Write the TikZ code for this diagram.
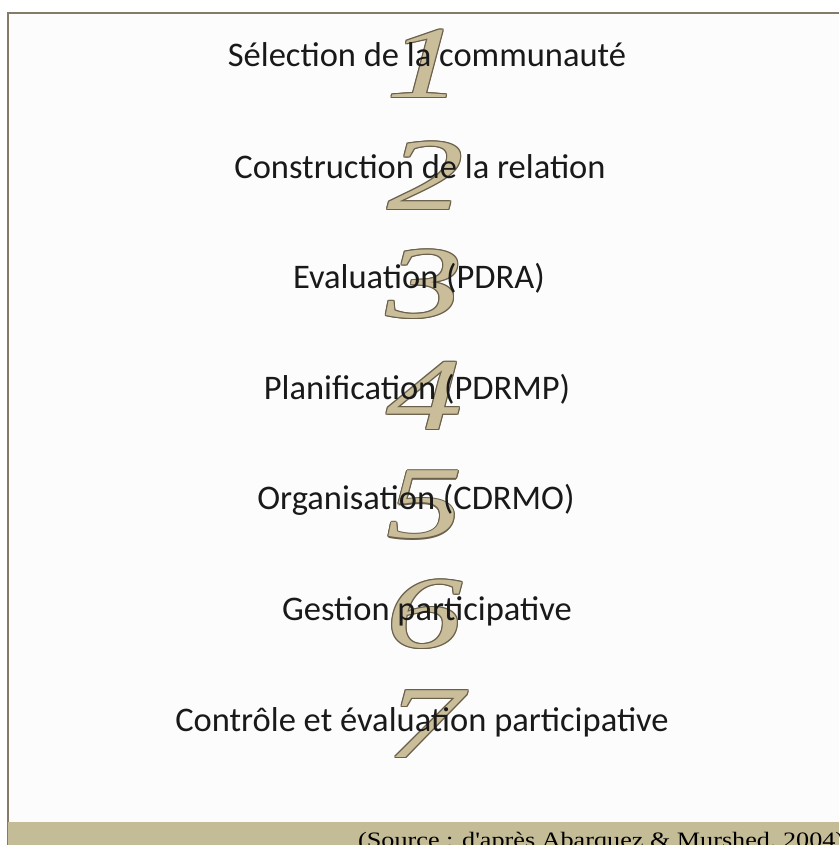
\documentclass[tikz,border=0pt]{standalone}
\usepackage{fontspec}
\setmainfont{Carlito}
\newfontfamily\srcfont{Liberation Serif}
\newfontfamily\digitfont{Liberation Serif}
\usetikzlibrary{positioning, calc}
\definecolor{cTAN}{HTML}{C4BB97}
\definecolor{cDIGIT}{HTML}{C9BE99}
\definecolor{cEDGE}{HTML}{6A5F4A}
\definecolor{cFRAME}{HTML}{857B68}
\tikzset{
  stepdigit/.style={
    text=cDIGIT,
    inner sep=0pt,
    font=\digitfont\itshape\fontsize{102}{102}\selectfont
  },
  digitedge/.style={
    stepdigit,
    text=cEDGE
  },
  steplabel/.style={
    inner sep=0pt,
    text=black!90,
    font=\fontsize{34.5}{38}\selectfont
  },
  sourcelabel/.style={
    inner sep=0pt,
    anchor=base west,
    font=\srcfont\fontsize{22}{24}\selectfont
  }
}
\newcommand{\stepnum}[3]{%
  \foreach \dx/\dy in {1.2/0,-1.2/0,0/1.2,0/-1.2,0.85/0.85,-0.85/0.85,0.85/-0.85,-0.85/-0.85}
    \node[digitedge] at ($(#1)+(\dx,\dy)$) {\scalebox{1.5}[1]{#3}};
  \node[stepdigit] (#2) at (#1) {\scalebox{1.5}[1]{#3}};%
}

\begin{document}
\begin{tikzpicture}[x=1pt, y=-1pt]
  \useasboundingbox (0,0) rectangle (839,845);
  % page and frame
  \fill[white] (0,0) rectangle (839,845);
  \fill[black!1] (8,13) rectangle (839,845);
  \draw[cFRAME, line width=1.2pt] (8,845) -- (8,13) -- (839,13);
  \fill[cTAN] (8,822) rectangle (839,845);

  % the seven steps, numeral behind text
  \coordinate (p1) at (425,64);
  \coordinate (p2) at (426,176);
  \coordinate (p3) at (425,284);
  \coordinate (p4) at (425,396);
  \coordinate (p5) at (425,505);
  \coordinate (p6) at (425,614);
  \coordinate (p7) at (425,724);
  \stepnum{p1}{n1}{1}
  \stepnum{p2}{n2}{2}
  \stepnum{p3}{n3}{3}
  \stepnum{p4}{n4}{4}
  \stepnum{p5}{n5}{5}
  \stepnum{p6}{n6}{6}
  \stepnum{p7}{n7}{7}

  \node[steplabel] (s1) at (427,55) {Sélection de la communauté};
  \node[steplabel] (s2) at (420,167) {Construction de la relation};
  \node[steplabel] (s3) at (419,278) {Evaluation (PDRA)};
  \node[steplabel] (s4) at (417,389) {Planification (PDRMP)};
  \node[steplabel] (s5) at (416,500) {Organisation (CDRMO)};
  \node[steplabel] (s6) at (427,611) {Gestion participative};
  \node[steplabel] (s7) at (422,722) {Contrôle et évaluation participative};

  \node[sourcelabel] (src) at (358,847) {\scalebox{1.19}[1]{(Source : d'après Abarquez \& Murshed, 2004)}};
\end{tikzpicture}
\end{document}
